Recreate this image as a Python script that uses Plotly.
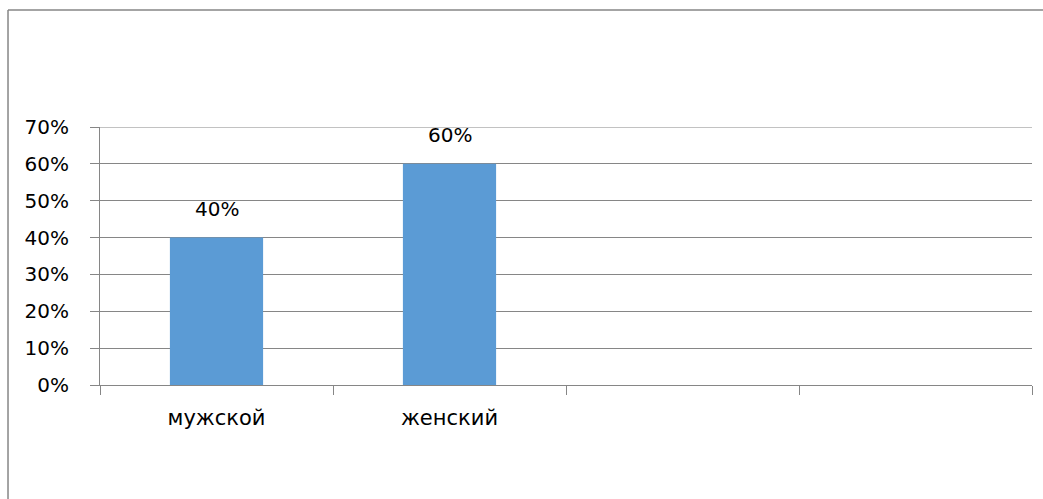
import plotly.graph_objects as go

# Survey breakdown by sex
categories = ["мужской", "женский", "", ""]
shares = [0.40, 0.60, None, None]
y_ticks = [0, 0.1, 0.2, 0.3, 0.4, 0.5, 0.6, 0.7]
y_tick_labels = ["0%", "10%", "20%", "30%", "40%", "50%", "60%", "70%"]

positions = list(range(len(categories)))
bar_x = [p for p, v in zip(positions, shares) if v is not None]
bar_y = [v for v in shares if v is not None]

GRAY = "#868686"
FONT = "DejaVu Sans"

fig = go.Figure()
fig.add_trace(go.Bar(
    x=bar_x,
    y=bar_y,
    width=0.4,
    marker=dict(color="#5B9BD5", line=dict(width=0)),
    hoverinfo="skip",
))

for x, v in zip(bar_x, bar_y):
    fig.add_annotation(
        x=x, y=v, xref="x", yref="y",
        text=f"{round(v * 100)}%",
        showarrow=False, yanchor="bottom", yshift=15,
        font=dict(family=FONT, size=20, color="#000000"),
    )

# top gridline at the 70% edge of the value range
fig.add_shape(type="line", xref="paper", yref="y",
              x0=0, x1=1, y0=0.7, y1=0.7,
              line=dict(color=GRAY, width=1))

# chart-area border (left and top edges)
fig.add_shape(type="line", xref="paper", yref="paper",
              x0=-0.0987, x1=-0.0987, y0=1.4535, y1=-0.5,
              line=dict(color=GRAY, width=1.5))
fig.add_shape(type="line", xref="paper", yref="paper",
              x0=-0.0987, x1=1.05, y0=1.4535, y1=1.4535,
              line=dict(color=GRAY, width=1.5))

fig.update_layout(
    width=1043, height=499,
    margin=dict(l=100, r=11, t=127, b=114),
    paper_bgcolor="white", plot_bgcolor="white",
    showlegend=False,
    font=dict(family=FONT, size=20, color="#000000"),
    xaxis=dict(
        range=[-0.5, len(categories) - 0.5],
        tickmode="array", tickvals=positions, ticktext=categories,
        ticks="", showgrid=False, zeroline=False,
        showline=True, linecolor=GRAY, linewidth=1,
        tickfont=dict(family=FONT, size=21, color="#000000"),
        ticklabelstandoff=14,
        minor=dict(tick0=-0.5, dtick=1, ticks="outside", ticklen=9,
                   tickcolor=GRAY, tickwidth=1, showgrid=False),
        fixedrange=True,
    ),
    yaxis=dict(
        range=[0, 0.7],
        tickmode="array", tickvals=y_ticks, ticktext=y_tick_labels,
        ticks="outside", ticklen=9, tickcolor=GRAY, tickwidth=1,
        showgrid=True, gridcolor=GRAY, gridwidth=1,
        zeroline=False, showline=True, linecolor=GRAY, linewidth=1,
        tickfont=dict(family=FONT, size=20, color="#000000"),
        ticklabelstandoff=17,
        fixedrange=True,
    ),
)

fig.write_html("out.html")
